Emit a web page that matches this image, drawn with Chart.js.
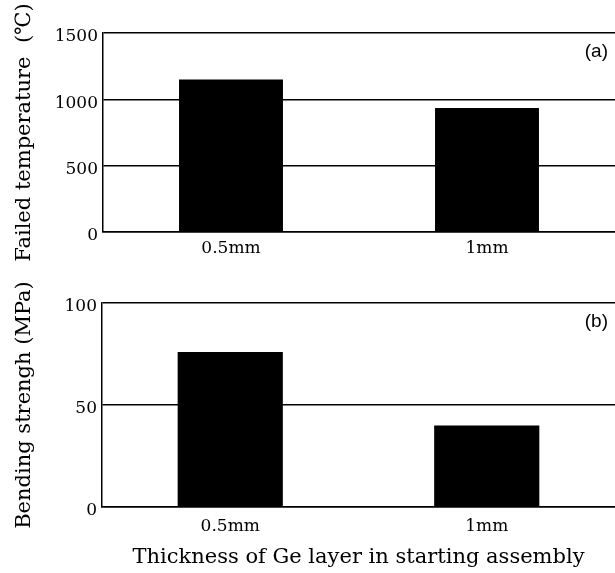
<!DOCTYPE html>
<html>
<head>
<meta charset="utf-8">
<script src="https://cdn.jsdelivr.net/npm/chart.js@4/dist/chart.umd.min.js"></script>
<style>
  html, body { margin: 0; padding: 0; background: #fff; }
  .panel { position: absolute; left: 0; width: 615px; }
  #topWrap { top: 0; height: 280px; }
  #botWrap { top: 280px; height: 293px; }
</style>
</head>
<body>
<div class="panel" id="topWrap"><canvas id="tempChart"></canvas></div>
<div class="panel" id="botWrap"><canvas id="strengthChart"></canvas></div>
<script>
  const thicknessLabels = ['0.5mm', '1mm'];
  const failedTemp = [1150, 935];
  const bendStrength = [76, 40];
  const tempTicks = [0, 500, 1000, 1500];
  const strengthTicks = [0, 50, 100];

  const serif = 'DejaVu Serif';

  // little "(a)" / "(b)" tag in the top right corner of each panel
  function panelTag(text, dx, dy) {
    return {
      id: 'tag',
      afterDraw(chart) {
        const { ctx, chartArea } = chart;
        ctx.save();
        ctx.font = '19px "Liberation Sans"';
        ctx.fillStyle = '#000';
        ctx.textAlign = 'right';
        ctx.textBaseline = 'top';
        ctx.fillText(text, chartArea.right - dx, chartArea.top + dy);
        ctx.restore();
      }
    };
  }

  function makeChart(id, values, ticks, yTitle, xTitle, cfg) {
    return new Chart(document.getElementById(id), {
      type: 'bar',
      data: {
        labels: thicknessLabels,
        datasets: [{
          data: values,
          backgroundColor: '#000',
          borderWidth: 0,
          categoryPercentage: 1,
          barPercentage: cfg.barPct,
        }],
      },
      options: {
        responsive: true,
        maintainAspectRatio: false,
        animation: false,
        layout: { padding: { top: cfg.top, right: 0, left: 0, bottom: 0 } },
        plugins: { legend: { display: false }, tooltip: { enabled: false } },
        scales: {
          x: {
            grid: { display: false, drawTicks: false },
            border: { display: true, color: '#000', width: 1.5 },
            ticks: { color: '#000', font: { family: serif, size: 17 }, padding: cfg.xPad, maxRotation: 0 },
            title: {
              display: !!xTitle, text: xTitle || '', color: '#000',
              font: { family: serif, size: 21 }, padding: { top: 4, bottom: 3 }
            },
            afterFit(s) { s.height = cfg.xHeight; },
          },
          y: {
            min: ticks[0],
            max: ticks[ticks.length - 1],
            afterBuildTicks(s) { s.ticks = ticks.map(v => ({ value: v })); },
            grid: { color: '#000', lineWidth: 1.5, drawTicks: false },
            border: { display: true, color: '#000', width: 1.5 },
            ticks: {
              color: '#000', font: { family: serif, size: 17 }, padding: 5, labelOffset: 4,
              callback: v => String(v),
            },
            title: {
              display: true, text: yTitle, color: '#000',
              font: { family: serif, size: 21 }, padding: { top: 12, bottom: 0 }
            },
            afterFit(s) { s.width = cfg.yWidth; },
          },
        },
      },
      plugins: [panelTag(cfg.tag, 7, 9)],
    });
  }

  makeChart('tempChart', failedTemp, tempTicks, 'Failed temperature  (\u2103)', null,
    { top: 33, xHeight: 48, yWidth: 103, xPad: 6, barPct: 0.406, tag: '(a)' });
  makeChart('strengthChart', bendStrength, strengthTicks, 'Bending strengh (MPa)',
    'Thickness of Ge layer in starting assembly',
    { top: 23, xHeight: 66, yWidth: 102, xPad: 9, barPct: 0.41, tag: '(b)' });
</script>
</body>
</html>
